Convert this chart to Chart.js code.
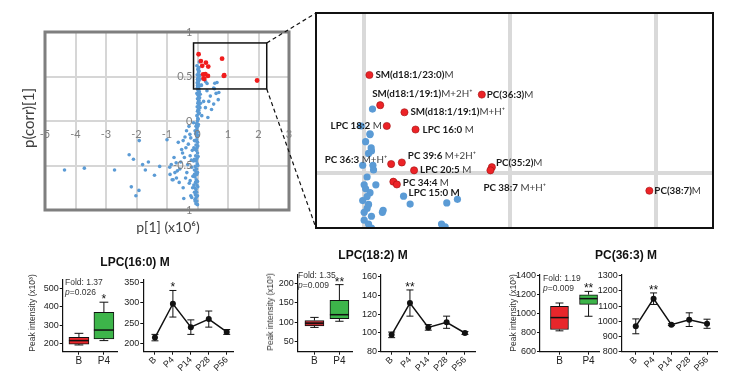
<!DOCTYPE html>
<html>
<head>
<meta charset="utf-8">
<script src="https://cdn.jsdelivr.net/npm/chart.js@4.4.1/dist/chart.umd.min.js"></script>
<style>
  html, body { margin: 0; padding: 0; background: #fff; }
  #page { position: relative; width: 733px; height: 382px; overflow: hidden; font-family: 'Liberation Sans', Arial, sans-serif; }
  #page canvas { position: absolute; }
  .ptitle { position: absolute; width: 140px; text-align: center; font: bold 12px 'Liberation Sans', Arial, sans-serif; line-height: 14px; color: #111; }
  .ytitle { position: absolute; white-space: nowrap; font-size: 8.5px; color: #333; transform: translate(-50%, -50%) rotate(-90deg); }
  .fold { position: absolute; font-size: 8.5px; line-height: 9.5px; color: #333; white-space: nowrap; }
  .mtitle { position: absolute; white-space: nowrap; font-family: Lato, sans-serif; color: #404040; transform: translate(-50%, -50%); }
</style>
</head>
<body>
<div id="page">
  <canvas id="insetChart" width="433" height="240" style="left:300px;top:0px"></canvas>
  <canvas id="mainChart" width="320" height="240" style="left:0px;top:0px"></canvas>

  <canvas id="box1" width="125" height="127" style="left:0px;top:255px"></canvas>
  <canvas id="line1" width="135" height="127" style="left:110px;top:255px"></canvas>
  <canvas id="box2" width="100" height="127" style="left:260px;top:255px"></canvas>
  <canvas id="line2" width="135" height="127" style="left:350px;top:255px"></canvas>
  <canvas id="box3" width="107" height="127" style="left:500px;top:255px"></canvas>
  <canvas id="line3" width="143" height="127" style="left:590px;top:255px"></canvas>

  <div class="mtitle" style="left:28px;top:118px;font-size:15px;transform:translate(-50%,-50%) rotate(-90deg)">p(corr)[1]</div>
  <div class="mtitle" style="left:168px;top:226px;font-size:14px">p[1] (x10⁶)</div>

  <div class="ptitle" style="left:65px;top:255px">LPC(16:0) M</div>
  <div class="ptitle" style="left:303px;top:248px">LPC(18:2) M</div>
  <div class="ptitle" style="left:556px;top:248px">PC(36:3) M</div>

  <div class="ytitle" style="left:32px;top:313px">Peak intensity (x10³)</div>
  <div class="ytitle" style="left:270px;top:312px">Peak intensity (x10³)</div>
  <div class="ytitle" style="left:513px;top:313px">Peak intensity (x10³)</div>

  <div class="fold" style="left:65px;top:278px">Fold: 1.37<br><i>p</i>=0.026</div>
  <div class="fold" style="left:298px;top:271px">Fold: 1.35<br><i>p</i>=0.009</div>
  <div class="fold" style="left:543px;top:274px">Fold: 1.19<br><i>p</i>=0.009</div>
</div>

<script>
// ---- data ----
const redPoints = [
  [0.036, 0.75], [0.11, 0.673], [0.806, 0.70], [0.276, 0.655], [0.155, 0.62],
  [0.352, 0.611], [0.185, 0.523], [0.258, 0.527], [0.342, 0.507], [0.875, 0.515],
  [0.865, 0.507], [0.2, 0.478], [0.224, 0.471], [1.954, 0.455]
];
const redNames = ['SM(d18:1/23:0)', 'SM(d18:1/19:1)', 'PC(36:3)', 'SM(d18:1/19:1)', 'LPC 18:2',
  'LPC 16:0', 'PC 36:3', 'PC 39:6', 'LPC 20:5', 'PC(35:2)', 'PC 38:7', '', 'PC 34:4', 'PC(38:7)'];
const redAdducts = ['M', 'M+2H⁺', 'M', 'M+H⁺', ' M', ' M', ' M+H⁺', ' M+2H⁺', ' M', 'M', ' M+H⁺', '', ' M', 'M'];

const bluePoints = [
  // far left
  [-4.36, -0.55], [-3.71, -0.53], [-2.72, -0.55], [-2.24, -0.38], [-2.1, -0.43], [-1.91, -0.22],
  [-1.8, -0.49], [-1.61, -0.46], [-1.71, -0.55], [-1.41, -0.61], [-2.17, -0.74], [-1.92, -0.78],
  [-2.02, -0.84], [-1.24, -0.51], [-1.0, -0.21],
  // middle cluster
  [-0.91, -0.52], [-0.86, -0.49], [-0.83, -0.66], [-0.77, -0.41], [-0.74, -0.58], [-0.69, -0.64],
  [-0.63, -0.24], [-0.58, -0.54], [-0.52, -0.32], [-0.49, -0.36], [-0.47, -0.22], [-0.43, -0.41],
  [-0.41, -0.18], [-0.39, -0.64], [-0.36, -0.11], [-0.32, -0.49], [-0.3, -0.26], [-0.28, -0.06],
  [-0.24, -0.39], [-0.24, -0.67], [-0.22, -0.84], [-0.22, -0.19], [-0.19, -0.52], [-0.17, -0.33],
  [-0.16, -0.75], [-0.13, -0.45], [-0.13, -0.02], [-0.1, -0.22], [-0.1, -0.6], [-0.08, -0.11],
  [-0.08, -0.88], [-0.06, -0.69], [-0.19, -0.86], [-0.47, -0.75], [-0.45, -0.87], [-0.8, -0.66],
  [-0.55, -0.46], [-0.66, -0.56], [-0.35, -0.58], [-0.27, -0.7], [-0.15, -0.62], [-0.12, -0.3],
  [-0.2, -0.44], [-0.6, -0.69], [-0.9, -0.6], [-0.7, -0.47], [-0.38, -0.3], [-0.25, -0.15],
  // column around zero
  [-0.02, 0.62], [0.01, 0.58], [0.03, 0.55], [-0.01, 0.52], [0.02, 0.49], [0.0, 0.47], [0.04, 0.45],
  [-0.01, 0.43], [0.02, 0.41], [0.05, 0.39], [0.0, 0.38], [0.03, 0.37], [0.01, 0.46], [0.03, 0.42],
  [0.0, 0.4], [0.01, 0.35], [0.06, 0.33], [-0.02, 0.31], [0.02, 0.29], [0.04, 0.27], [0.0, 0.25],
  [0.03, 0.22], [0.01, 0.2], [0.05, 0.18], [-0.01, 0.16], [0.02, 0.13], [0.0, 0.11], [0.03, 0.08],
  [-0.02, 0.06], [0.01, 0.03], [0.0, 0.0], [-0.03, -0.03], [0.01, -0.06], [-0.02, -0.09], [0.0, -0.12],
  [-0.04, -0.15], [-0.01, -0.18], [-0.03, -0.21], [0.0, -0.24], [-0.05, -0.27], [-0.02, -0.3],
  [-0.04, -0.33], [0.0, -0.36], [-0.06, -0.39], [-0.02, -0.42], [-0.04, -0.45], [-0.01, -0.48],
  [-0.07, -0.51], [-0.03, -0.54], [-0.05, -0.57], [-0.02, -0.6], [-0.08, -0.63], [-0.04, -0.66],
  [-0.06, -0.69], [-0.02, -0.72], [-0.09, -0.75], [-0.05, -0.77], [-0.03, -0.8], [-0.07, -0.83],
  [-0.04, -0.86], [-0.02, -0.9], [-0.05, -0.93],
  [0.04, 0.6], [0.06, 0.52], [0.08, 0.47], [0.02, 0.44], [0.05, 0.36], [0.09, 0.3], [0.03, 0.32],
  [0.07, 0.26], [0.1, 0.2], [0.05, 0.23], [0.08, 0.15], [0.04, 0.12], [0.06, 0.09], [0.02, 0.02],
  [0.03, -0.04], [-0.05, -0.06], [-0.06, -0.14], [0.02, -0.16], [-0.07, -0.22], [0.01, -0.28],
  [-0.08, -0.32], [0.02, -0.4], [-0.1, -0.43], [0.01, -0.5], [-0.1, -0.55], [0.0, -0.58],
  [-0.11, -0.62], [0.0, -0.68], [-0.12, -0.72], [0.01, -0.74], [-0.1, -0.8], [0.0, -0.84],
  [-0.08, -0.9], [0.0, -0.94],
  // right of zero
  [0.53, 0.37], [0.7, 0.32], [0.61, 0.31], [0.42, 0.28], [0.31, 0.34], [0.68, 0.24], [0.46, 0.13],
  [0.34, 0.04], [0.14, 0.06], [0.2, 0.22], [0.26, 0.15], [0.37, 0.22], [0.53, 0.19],
  [0.057, 0.663], [0.04, 0.598], [0.048, 0.564], [0.05, 0.556], [0.064, 0.508], [0.27, 0.441],
  [0.315, 0.421], [0.566, 0.424], [0.639, 0.433], [0.13, 0.405], [0.125, 0.4], [0.555, 0.363]
];
const blueLabelIndex = bluePoints.findIndex(p => p[0] === 0.27 && p[1] === 0.441);
const blueLabelName = 'LPC 15:0 M';

const mainXTicks = [-5, -4, -3, -2, -1, 0, 1, 2, 3];
const mainYTicks = [-1, -0.5, 0, 0.5, 1];
const zoomBox = { x0: -0.13, x1: 2.27, y0: 0.36, y1: 0.877 };

const boxCats = ['B', 'P4'];
const timeCats = ['B', 'P4', 'P14', 'P28', 'P56'];

// box rows: min, q1, median, q3, max
const lpc160BoxB = [191, 196, 215, 233, 255];
const lpc160BoxP4 = [215, 224, 273, 371, 426];
const lpc160Mean = [214, 298, 240, 260, 228];
const lpc160Sem = [8, 33, 18, 20, 6];
const lpc160BoxTicks = [200, 300, 400, 500];
const lpc160LineTicks = [200, 250, 300, 350];

const lpc182BoxB = [86, 90, 97, 104, 112];
const lpc182BoxP4 = [102, 109, 119, 156, 197];
const lpc182Mean = [98, 132, 106, 111.5, 100];
const lpc182Sem = [3, 14, 3, 6.5, 1.5];
const lpc182BoxTicks = [50, 100, 150, 200];
const lpc182LineTicks = [80, 100, 120, 140, 160];

const pc363BoxB = [819, 833, 958, 1076, 1111];
const pc363BoxP4 = [972, 1097, 1157, 1198, 1233];
const pc363Mean = [967, 1149, 978, 1011, 984];
const pc363Sem = [49, 38, 6, 45, 30];
const pc363BoxTicks = [600, 800, 1000, 1200, 1400];
const pc363LineTicks = [800, 900, 1000, 1100, 1200, 1300];

// ---- layout helpers ----
const insetCorner = { x: 316, top: 13, bottom: 228 };
const labelOffsets = [
  [6, 0, 'left'], [-8, -11, 'left'], [5, 0, 'left'], [6, 0, 'left'], [-5, 0, 'right'],
  [7, 0, 'left'], [-4, -4, 'right'], [6, -7, 'left'], [6, 0, 'left'], [4, -4, 'left'],
  [-7, 18, 'left'], null, [6, -2, 'left'], [5, 0, 'left']
];
const labelSize = 9.8;

const toXY = arr => arr.map(([x, y]) => ({ x, y }));
const noUi = { legend: { display: false }, tooltip: { enabled: false } };

function pinned(id, area) {
  const cv = document.getElementById(id);
  const left = parseFloat(cv.style.left) || 0;
  const top = parseFloat(cv.style.top) || 0;
  return {
    cv,
    padding: { left: 0, top: area.top - top, right: cv.width - (area.right - left), bottom: 0 },
    yWidth: area.left - left,
    xHeight: cv.height - (area.bottom - top)
  };
}

function axis(extra) {
  return Object.assign({
    offset: false,
    grid: { drawOnChartArea: false, drawTicks: true, tickLength: 3, color: '#111', lineWidth: 1, offset: false },
    border: { display: true, color: '#111', width: 1.2 }
  }, extra);
}
const tickFont = { family: 'Liberation Sans', size: 9 };

function drawStar(ctx, x, y, txt) {
  ctx.font = '12px "Liberation Sans"';
  ctx.fillStyle = '#111';
  ctx.textAlign = 'center';
  ctx.textBaseline = 'alphabetic';
  ctx.fillText(txt, x, y);
}

// ---- scatter (overview) ----
const mainDecor = {
  id: 'mainDecor',
  afterDraw(chart) {
    const { ctx, chartArea: a, scales: { x, y } } = chart;
    ctx.save();
    ctx.strokeStyle = '#7f7f7f';
    ctx.lineWidth = 3;
    ctx.strokeRect(a.left, a.top, a.right - a.left, a.bottom - a.top);

    ctx.font = '11px Lato';
    ctx.fillStyle = '#7f7f7f';
    const x0 = x.getPixelForValue(0);
    const y0 = y.getPixelForValue(0);
    ctx.textAlign = 'center';
    ctx.textBaseline = 'middle';
    mainXTicks.forEach(v => ctx.fillText(String(v), x.getPixelForValue(v), y0 + 13));
    ctx.textAlign = 'right';
    mainYTicks.forEach(v => ctx.fillText(String(v), x0 - 5, y.getPixelForValue(v)));

    const bx0 = x.getPixelForValue(zoomBox.x0), bx1 = x.getPixelForValue(zoomBox.x1);
    const by0 = y.getPixelForValue(zoomBox.y1), by1 = y.getPixelForValue(zoomBox.y0);
    ctx.strokeStyle = '#111';
    ctx.lineWidth = 1.5;
    ctx.strokeRect(bx0, by0, bx1 - bx0, by1 - by0);
    ctx.lineWidth = 1.2;
    ctx.setLineDash([4, 3]);
    ctx.beginPath();
    ctx.moveTo(bx1, by0); ctx.lineTo(insetCorner.x, insetCorner.top);
    ctx.moveTo(bx1, by1); ctx.lineTo(insetCorner.x, insetCorner.bottom);
    ctx.stroke();
    ctx.restore();
  }
};

new Chart(document.getElementById('mainChart'), {
  type: 'scatter',
  data: {
    datasets: [
      { data: toXY(redPoints), backgroundColor: '#f01c1c', borderWidth: 0, pointRadius: 2.4 },
      { data: toXY(bluePoints), backgroundColor: '#5b9bd5', borderWidth: 0, pointRadius: 1.8 }
    ]
  },
  options: {
    responsive: false, animation: false, events: [],
    layout: { padding: { left: 45, right: 31, top: 32, bottom: 30 } },
    plugins: noUi,
    scales: {
      x: {
        type: 'linear', min: -5, max: 3,
        ticks: { stepSize: 1, display: false },
        grid: { color: '#d6d6d6', lineWidth: 2, drawTicks: false },
        border: { display: false },
        afterFit: s => { s.height = 0; }
      },
      y: {
        min: -1, max: 1,
        ticks: { stepSize: 0.5, display: false },
        grid: { color: '#d6d6d6', lineWidth: 2, drawTicks: false },
        border: { display: false },
        afterFit: s => { s.width = 0; }
      }
    }
  },
  plugins: [mainDecor]
});

// ---- scatter (zoomed inset) ----
function drawLabel(ctx, name, adduct, px, py, align) {
  const bold = `bold ${labelSize}px Lato`;
  const normal = `${labelSize}px Lato`;
  ctx.font = bold;
  const w1 = ctx.measureText(name).width;
  ctx.font = normal;
  const w2 = ctx.measureText(adduct).width;
  const sx = align === 'right' ? px - w1 - w2 : px;
  ctx.textAlign = 'left';
  ctx.textBaseline = 'middle';
  ctx.font = bold;
  ctx.fillStyle = '#1a1a1a';
  ctx.fillText(name, sx, py);
  ctx.font = normal;
  ctx.fillStyle = '#404040';
  ctx.fillText(adduct, sx + w1, py);
}

const insetDecor = {
  id: 'insetDecor',
  afterDraw(chart) {
    const { ctx, chartArea: a, scales: { x, y } } = chart;
    ctx.save();
    ctx.strokeStyle = '#111';
    ctx.lineWidth = 2;
    ctx.strokeRect(a.left, a.top, a.right - a.left, a.bottom - a.top);
    redPoints.forEach((p, i) => {
      const off = labelOffsets[i];
      if (!off || !redNames[i]) return;
      drawLabel(ctx, redNames[i], redAdducts[i], x.getPixelForValue(p[0]) + off[0], y.getPixelForValue(p[1]) + off[1], off[2]);
    });
    const bp = bluePoints[blueLabelIndex];
    drawLabel(ctx, blueLabelName, '', x.getPixelForValue(bp[0]) + 5, y.getPixelForValue(bp[1]) - 3, 'left');
    ctx.restore();
  }
};

new Chart(document.getElementById('insetChart'), {
  type: 'scatter',
  data: {
    datasets: [
      { data: toXY(redPoints), backgroundColor: '#ec2327', borderColor: '#a01010', borderWidth: 0.6, pointRadius: 3.6 },
      { data: toXY(bluePoints), backgroundColor: '#5b9bd5', borderWidth: 0, pointRadius: 3.6 }
    ]
  },
  options: {
    responsive: false, animation: false, events: [],
    layout: { padding: { left: 16, right: 20, top: 13, bottom: 12 } },
    plugins: noUi,
    scales: {
      x: {
        type: 'linear', min: -0.33, max: 2.39,
        afterBuildTicks: s => { s.ticks = [0, 1, 2].map(value => ({ value })); },
        ticks: { display: false },
        grid: { color: '#d9d9d9', lineWidth: 4, drawTicks: false },
        border: { display: false },
        afterFit: s => { s.height = 0; }
      },
      y: {
        min: 0.36, max: 0.908,
        afterBuildTicks: s => { s.ticks = [{ value: 0.5 }]; },
        ticks: { display: false },
        grid: { color: '#d9d9d9', lineWidth: 4, drawTicks: false },
        border: { display: false },
        afterFit: s => { s.width = 0; }
      }
    }
  },
  plugins: [insetDecor]
});

// ---- box plots ----
function boxChart(id, area, rows, yTicks, yRange, xRange, colors, thick, star) {
  const p = pinned(id, area);
  const whiskers = {
    id: 'whiskers',
    afterDatasetsDraw(chart) {
      const { ctx, scales: { x, y } } = chart;
      ctx.save();
      ctx.strokeStyle = '#111';
      rows.forEach((r, i) => {
        const cx = x.getPixelForValue(i);
        const half = thick / 2;
        const cap = thick * 0.22;
        const [lo, q1, med, q3, hi] = r.map(v => y.getPixelForValue(v));
        ctx.lineWidth = 1;
        ctx.beginPath();
        ctx.moveTo(cx, q3); ctx.lineTo(cx, hi);
        ctx.moveTo(cx - cap, hi); ctx.lineTo(cx + cap, hi);
        ctx.moveTo(cx, q1); ctx.lineTo(cx, lo);
        ctx.moveTo(cx - cap, lo); ctx.lineTo(cx + cap, lo);
        ctx.stroke();
        ctx.lineWidth = 1.5;
        ctx.beginPath();
        ctx.moveTo(cx - half, med); ctx.lineTo(cx + half, med);
        ctx.stroke();
      });
      drawStar(ctx, x.getPixelForValue(1), y.getPixelForValue(rows[1][4]) + 1, star);
      ctx.restore();
    }
  };
  return new Chart(p.cv, {
    type: 'bar',
    data: {
      labels: boxCats,
      datasets: [{
        data: rows.map(r => [r[1], r[3]]),
        backgroundColor: colors,
        borderColor: '#111',
        borderWidth: 1,
        borderSkipped: false,
        barThickness: thick
      }]
    },
    options: {
      responsive: false, animation: false, events: [],
      layout: { padding: p.padding },
      plugins: noUi,
      scales: {
        x: axis({
          type: 'category',
          afterDataLimits: s => { s.min = 0; s.max = 1; },
          afterBuildTicks: s => { s.ticks = boxCats.map((c, i) => ({ value: i })); },
          afterUpdate: s => {
            // spread categories so that B and P4 sit where the reference puts them
            s._startValue = xRange[0];
            s._valueRange = xRange[1] - xRange[0];
          },
          ticks: { color: '#222', font: { family: 'Liberation Sans', size: 10 }, autoSkip: false, maxRotation: 0, padding: 1 },
          afterFit: s => { s.height = p.xHeight; }
        }),
        y: axis({
          min: yRange[0], max: yRange[1],
          afterBuildTicks: s => { s.ticks = yTicks.map(value => ({ value })); },
          ticks: { color: '#222', font: tickFont, padding: 1, callback: v => String(v) },
          afterFit: s => { s.width = p.yWidth; }
        })
      }
    },
    plugins: [whiskers]
  });
}

// ---- time course ----
function lineChart(id, area, mean, sem, yTicks, yRange, xRange, star) {
  const p = pinned(id, area);
  const errorBars = {
    id: 'errorBars',
    beforeDatasetsDraw(chart) {
      const { ctx, scales: { x, y } } = chart;
      ctx.save();
      ctx.strokeStyle = '#111';
      ctx.lineWidth = 1;
      mean.forEach((m, i) => {
        const cx = x.getPixelForValue(i);
        const top = y.getPixelForValue(m + sem[i]);
        const bot = y.getPixelForValue(m - sem[i]);
        ctx.beginPath();
        ctx.moveTo(cx, top); ctx.lineTo(cx, bot);
        ctx.moveTo(cx - 3.5, top); ctx.lineTo(cx + 3.5, top);
        ctx.moveTo(cx - 3.5, bot); ctx.lineTo(cx + 3.5, bot);
        ctx.stroke();
      });
      ctx.restore();
    },
    afterDatasetsDraw(chart) {
      const { ctx, scales: { x, y } } = chart;
      ctx.save();
      drawStar(ctx, x.getPixelForValue(1), y.getPixelForValue(mean[1] + sem[1]) + 1, star);
      ctx.restore();
    }
  };
  return new Chart(p.cv, {
    type: 'line',
    data: {
      datasets: [{
        data: mean.map((m, i) => ({ x: i, y: m })),
        borderColor: '#111',
        borderWidth: 1.5,
        pointRadius: 3,
        pointBackgroundColor: '#111',
        pointBorderWidth: 0,
        tension: 0
      }]
    },
    options: {
      responsive: false, animation: false, events: [],
      layout: { padding: p.padding },
      plugins: noUi,
      scales: {
        x: axis({
          type: 'linear', min: xRange[0], max: xRange[1],
          afterBuildTicks: s => { s.ticks = timeCats.map((c, i) => ({ value: i })); },
          ticks: { callback: v => timeCats[v], color: '#222', font: tickFont, autoSkip: false, minRotation: 45, maxRotation: 45, padding: 0 },
          afterFit: s => { s.height = p.xHeight; }
        }),
        y: axis({
          min: yRange[0], max: yRange[1],
          afterBuildTicks: s => { s.ticks = yTicks.map(value => ({ value })); },
          ticks: { color: '#222', font: tickFont, padding: 1, callback: v => String(v) },
          afterFit: s => { s.width = p.yWidth; }
        })
      }
    },
    plugins: [errorBars]
  });
}

boxChart('box1', { left: 62.7, right: 118, top: 280, bottom: 351.7 },
  [lpc160BoxB, lpc160BoxP4], lpc160BoxTicks, [154, 548], [-0.65, 1.56], ['#e8262b', '#3db54a'], 20, '*');
lineChart('line1', { left: 143.3, right: 233, top: 280, bottom: 351.7 },
  lpc160Mean, lpc160Sem, lpc160LineTicks, [179, 357], [-0.65, 4.35], '*');

boxChart('box2', { left: 297.7, right: 355, top: 275, bottom: 351.7 },
  [lpc182BoxB, lpc182BoxP4], lpc182BoxTicks, [23, 222], [-0.67, 1.54], ['#b8262c', '#3db54a'], 19, '**');
lineChart('line2', { left: 381, right: 475, top: 275, bottom: 351.7 },
  lpc182Mean, lpc182Sem, lpc182LineTicks, [80, 162], [-0.58, 4.55], '**');

boxChart('box3', { left: 540, right: 601.7, top: 275, bottom: 351.7 },
  [pc363BoxB, pc363BoxP4], pc363BoxTicks, [600, 1405], [-0.67, 1.39], ['#e8262b', '#3db54a'], 18, '**');
lineChart('line3', { left: 621.7, right: 717, top: 275, bottom: 351.7 },
  pc363Mean, pc363Sem, pc363LineTicks, [800, 1305], [-0.79, 4.56], '**');
</script>
</body>
</html>
